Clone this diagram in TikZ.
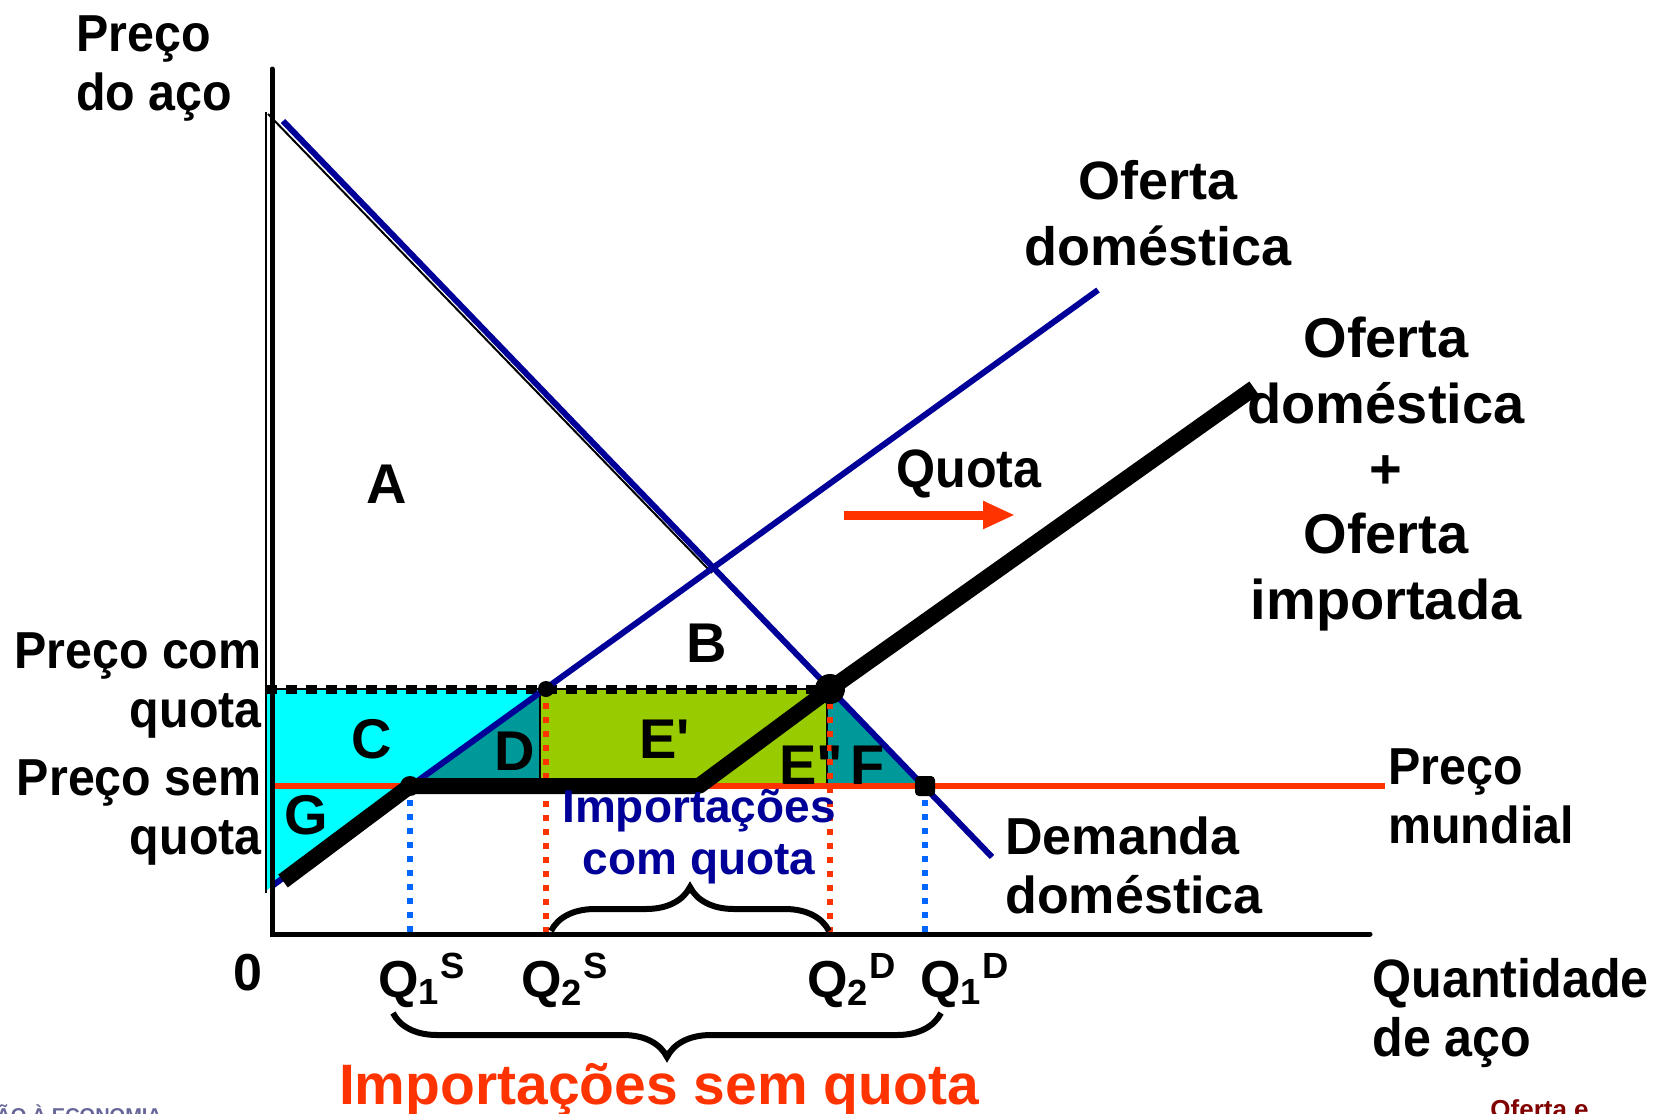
\documentclass[tikz,border=0pt]{standalone}
\usepackage{fontspec}
\setmainfont{Liberation Sans}
\newfontfamily\narrowfont[FakeStretch=0.93]{Liberation Sans}
\usetikzlibrary{arrows.meta,decorations.pathreplacing}
\definecolor{navy}{HTML}{000099}
\definecolor{quotared}{HTML}{FF3300}
\definecolor{aquaarea}{HTML}{00FFFF}
\definecolor{tealarea}{HTML}{009999}
\definecolor{greenarea}{HTML}{99CC00}
\definecolor{dotblue}{HTML}{0066FF}
\definecolor{footblue}{HTML}{666699}
\definecolor{footred}{HTML}{800000}
\newcommand{\fs}[2]{\fontsize{#1}{#2}\selectfont\bfseries}
\newcommand{\fsn}[2]{\narrowfont\fontsize{#1}{#2}\selectfont\bfseries}

\begin{document}
\begin{tikzpicture}[
        x=0.5pt, y=-0.5pt,
        axis/.style={line width=2.5pt, line cap=round},
        curve/.style={navy, line width=3pt},
        bigline/.style={line width=8pt, line join=round},
        guide/.style={line width=3pt, dash pattern=on 3pt off 4pt},
        thin/.style={line width=1pt},
        lbl/.style={inner sep=0pt, font=\fs{26}{29.5}},
        nlbl/.style={inner sep=0pt, font=\fsn{26}{29.5}},
        area/.style={inner sep=0pt, anchor=base, font=\fs{28}{30}},
        dot/.style={circle, fill, inner sep=0pt},
        brace/.style={decorate, decoration={brace, amplitude=22pt}, line width=3pt}
    ]
        \useasboundingbox (0,0) rectangle (1655,1114);

        % Pontos do gráfico
        \coordinate (O) at (272,934);
        \coordinate (ytop) at (272,69);
        \coordinate (xend) at (1370,934);
        \coordinate (dtop) at (283,121);
        \coordinate (dend) at (992,857);
        \coordinate (sbot) at (272,886);
        \coordinate (stop) at (1098,290);
        \coordinate (wl) at (272,786);
        \coordinate (wr) at (1385,786);
        \coordinate (q1s) at (410,786);
        \coordinate (q2s) at (546,689);
        \coordinate (eq) at (830,689);
        \coordinate (q1d) at (925,786);
        \coordinate (kink) at (699,786);
        \coordinate (tbot) at (283,881);
        \coordinate (ttop) at (1254,388);
        \coordinate (pl) at (266,689);
        \coordinate (ld) at (540,689);
        \coordinate (lf) at (827,689);

        % Áreas
        \fill[aquaarea] (pl) -- (q2s) -- (q1s) -- (sbot) -- (266,891) -- cycle;
        \fill[greenarea] (ld) rectangle (lf |- wl);
        \fill[tealarea] (q1s) -- (540,692) -- (ld |- wl) -- cycle;
        \fill[tealarea] (lf) -- (eq) -- (q1d) -- (lf |- wl) -- cycle;

        % Preço com quota
        \draw[thin] (pl) -- (eq);
        \draw[line width=4.5pt, dash pattern=on 5.5pt off 4.5pt] (pl) -- (eq);
        \draw[thin] (ld) -- (ld |- wl);
        \draw[thin] (lf) -- (lf |- wl);

        % Linhas de quantidade
        \draw[guide, dotblue] (q1s) -- (q1s |- O);
        \draw[guide, quotared] (q2s) -- (q2s |- O);
        \draw[guide, quotared] (eq) -- (eq |- O);
        \draw[guide, dotblue] (q1d) -- (q1d |- O);

        % Curvas
        \draw[thin] (266,112) -- (266,893);
        \draw[thin] (268,114) -- (712,573);
        \draw[curve] (dtop) -- (dend);
        \draw[curve] (sbot) -- (stop);
        \draw[quotared, line width=3pt] (wl) -- (wr);
        \draw[bigline] (tbot) -- (q1s) -- (kink) -- (eq) -- (ttop);

        \node[dot, minimum size=15pt] (eqdot) at (eq) {};
        \node[dot, minimum size=8pt] (q2sdot) at (q2s) {};
        \node[dot, minimum size=10pt] (q1sdot) at (q1s) {};
        \node[fill, rounded corners=2pt, minimum size=10pt, inner sep=0pt] (q1ddot) at (q1d) {};

        % Eixos
        \draw[axis] (ytop) -- (O) -- (xend);

        % Quota
        \coordinate (qa) at (844,515);
        \coordinate (qb) at (1015,515);
        \draw[quotared, line width=4.5pt, -{Triangle[length=16pt,width=13pt]}] (qa) -- (qb);

        % Chaves
        \draw[brace] (551,931) -- (829,931);
        \draw[brace] (941,1013) -- (393,1013);

        % Letras das áreas
        \node[area] (la) at (387,503) {A};
        \node[area] (lb) at (707,662) {B};
        \node[area] (lc) at (372,758) {C};
        \node[area] (lde) at (515,770) {D};
        \node[area, anchor=base west] (le1) at (639,758) {E\textquotesingle};
        \node[area, anchor=base west] (le2) at (779,784) {E\textquotedbl};
        \node[area] (lff) at (868,784) {F};
        \node[area] (lg) at (306,834) {G};

        % Textos
        \node[nlbl, anchor=west, align=left] (preco) at (76,69) {Preço\\do aço};
        \node[lbl, align=center, font=\fs{27}{32.7}] (ofdom) at (1158,213) {Oferta\\doméstica};
        \node[lbl, align=center, font=\fs{28}{32.7}] (ofimp) at (1386,474) {Oferta\\doméstica\\+\\Oferta\\importada};
        \node[nlbl, font=\fsn{27}{30}] (quota) at (969,474) {Quota};
        \node[nlbl, anchor=west, align=left] (mundial) at (1388,796) {Preço\\mundial};
        \node[lbl, anchor=west, align=left] (demanda) at (1005,865) {Demanda\\doméstica};
        \node[nlbl, anchor=west, align=left, font=\fsn{27}{29.5}] (quant) at (1372,1013) {Quantidade\\de aço};
        \node[nlbl, anchor=east, align=right] (pcq) at (262,685) {Preço com\\quota};
        \node[nlbl, anchor=east, align=right] (psq) at (262,812) {Preço sem\\quota};
        \node[lbl, navy, align=center, font=\fs{23}{26}] (icq) at (699,837) {Importações\\com quota};
        \node[lbl, quotared, anchor=base, font=\fs{28.5}{30}] (isq) at (659,1104) {Importações sem quota};
        \node[lbl] (zero) at (248,973) {0};
        \node[lbl, anchor=base west] (lq1s) at (378,997) {Q\textsubscript{1}\textsuperscript{S}};
        \node[lbl, anchor=base west] (lq2s) at (521,997) {Q\textsubscript{2}\textsuperscript{S}};
        \node[lbl, anchor=base west] (lq2d) at (807,997) {Q\textsubscript{2}\textsuperscript{D}};
        \node[lbl, anchor=base west] (lq1d) at (920,997) {Q\textsubscript{1}\textsuperscript{D}};

        % Rodapé
        \node[inner sep=0pt, anchor=base west, footblue, font=\fs{10}{10}] (rodape) at (-4,1122) {ÃO À ECONOMIA};
        \node[inner sep=0pt, anchor=base west, footred, font=\fs{13}{13}] (capitulo) at (1490,1118) {Oferta e};

    \end{tikzpicture}
\end{document}
